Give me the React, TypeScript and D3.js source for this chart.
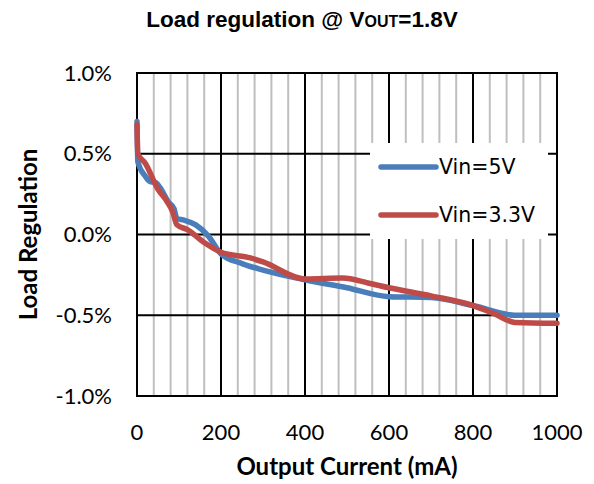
import React from "react";
import * as d3 from "d3";

// load current (mA) and load regulation (%)
const currentVin5 = [0, 2, 20, 30, 45, 55, 75, 88, 95, 110, 140, 170, 200, 250, 300, 400, 500, 600, 700, 800, 900, 1000];
const regVin5 = [0.7, 0.45, 0.36, 0.33, 0.32, 0.29, 0.2, 0.16, 0.1, 0.09, 0.06, -0.01, -0.12, -0.18, -0.22, -0.28, -0.33, -0.385, -0.39, -0.44, -0.5, -0.5];

const currentVin33 = [0, 2, 20, 50, 70, 85, 95, 120, 160, 200, 270, 300, 400, 490, 550, 600, 700, 800, 850, 900, 1000];
const regVin33 = [0.68, 0.5, 0.44, 0.28, 0.21, 0.14, 0.06, 0.03, -0.05, -0.11, -0.145, -0.17, -0.275, -0.27, -0.3, -0.33, -0.38, -0.44, -0.49, -0.545, -0.55];

const seriesNames = ["Vin=5V", "Vin=3.3V"];
const seriesColors = ["#4A7EBB", "#BE4B48"];

const xMajorTicks = [0, 200, 400, 600, 800, 1000];
const xMinorTicks = d3.range(0, 1001, 40).filter((v) => v % 200 !== 0);
const yTicks = [1.0, 0.5, 0.0, -0.5, -1.0];

const W = 594;
const H = 484;
const margin = { top: 73, right: 37, bottom: 88, left: 137 };

const App = () => {
    const x = d3.scaleLinear().domain([0, 1000]).range([margin.left, W - margin.right]);
    const y = d3.scaleLinear().domain([-1, 1]).range([H - margin.bottom, margin.top]);

    const line = d3
        .line<[number, number]>()
        .x((d) => x(d[0]))
        .y((d) => y(d[1]))
        .curve(d3.curveMonotoneX);

    const series = [
        currentVin5.map((c, i) => [c, regVin5[i]] as [number, number]),
        currentVin33.map((c, i) => [c, regVin33[i]] as [number, number]),
    ];

    const tickFont = "Lato, 'Open Sans', sans-serif";

    return (
        <svg width={W} height={H} style={{ position: "absolute", left: 0, top: 0, background: "#fff" }}>
            {/* title */}
            <text x={302} y={27} textAnchor="middle" fontFamily="'Liberation Sans', Arial, sans-serif" fontWeight="bold" fontSize={22.5}>
                Load regulation @ V<tspan fontSize={16}>OUT</tspan>=1.8V
            </text>

            {/* minor vertical grid */}
            {xMinorTicks.map((v) => (
                <line key={"m" + v} x1={x(v)} x2={x(v)} y1={y(1)} y2={y(-1)} stroke="#BFBFBF" strokeWidth={2} />
            ))}
            {/* major vertical grid */}
            {xMajorTicks.map((v) => (
                <line key={"M" + v} x1={x(v)} x2={x(v)} y1={y(1) - 1} y2={y(-1) + 1} stroke="#000" strokeWidth={2} />
            ))}
            {/* horizontal grid */}
            {yTicks.map((v) => (
                <line key={"h" + v} x1={x(0) - 1} x2={x(1000) + 1} y1={y(v)} y2={y(v)} stroke="#000" strokeWidth={2} />
            ))}

            {/* data */}
            {series.map((s, i) => (
                <path key={i} d={line(s) || ""} fill="none" stroke={seriesColors[i]} strokeWidth={5.5} strokeLinejoin="round" strokeLinecap="round" />
            ))}

            {/* y tick labels */}
            {yTicks.map((v) => (
                <text key={"yl" + v} x={x(0) - 25} y={y(v)} dy="0.35em" textAnchor="end" fontFamily={tickFont} fontSize={22}>
                    {v.toFixed(1) + "%"}
                </text>
            ))}
            {/* x tick labels */}
            {xMajorTicks.map((v) => (
                <text key={"xl" + v} x={x(v)} y={440} textAnchor="middle" fontFamily={tickFont} fontSize={22}>
                    {v}
                </text>
            ))}

            {/* axis titles */}
            <text x={347} y={475} textAnchor="middle" fontFamily={tickFont} fontWeight="bold" fontSize={24}>
                Output Current (mA)
            </text>
            <text transform={`translate(37, ${y(0)}) rotate(-90)`} textAnchor="middle" fontFamily={tickFont} fontWeight="bold" fontSize={24}>
                Load Regulation
            </text>

            {/* legend */}
            <rect x={370} y={143} width={178} height={96} fill="#fff" />
            {seriesNames.map((name, i) => (
                <g key={name} transform={`translate(381, ${167 + i * 48})`}>
                    <line x1={0} x2={55} y1={0} y2={0} stroke={seriesColors[i]} strokeWidth={5.5} strokeLinecap="round" />
                    <text x={58} y={0} dy="0.35em" fontFamily="'DejaVu Sans', sans-serif" fontSize={20.5}>
                        {name}
                    </text>
                </g>
            ))}
        </svg>
    );
};

export default App;
